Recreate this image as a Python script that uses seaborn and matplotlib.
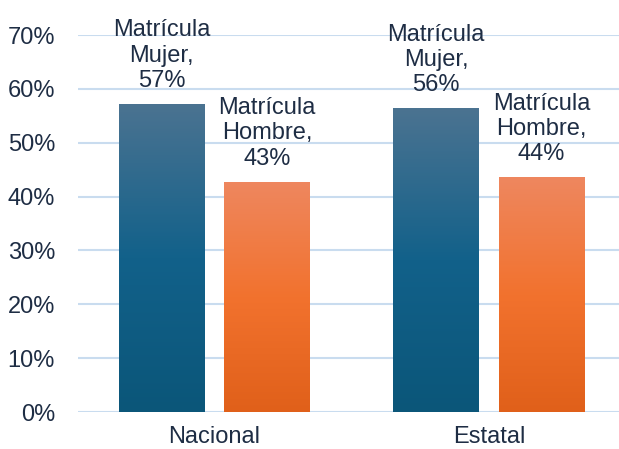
import numpy as np
import pandas as pd
import matplotlib
matplotlib.use("Agg")
import matplotlib.pyplot as plt
from matplotlib.colors import LinearSegmentedColormap
import seaborn as sns

# data
regiones = ["Nacional", "Nacional", "Estatal", "Estatal"]
series = ["Matrícula Mujer", "Matrícula Hombre", "Matrícula Mujer", "Matrícula Hombre"]
valores = [0.572, 0.428, 0.564, 0.436]
etiquetas = ["Matrícula\nMujer,\n57%", "Matrícula\nHombre,\n43%",
             "Matrícula\nMujer,\n56%", "Matrícula\nHombre,\n44%"]

df = pd.DataFrame({"region": regiones, "serie": series, "valor": valores})

sns.set_style("white")
plt.rcParams["font.family"] = ["Liberation Sans", "DejaVu Sans"]
txt = "#1e2d44"

fig = plt.figure(figsize=(6.19, 4.49), dpi=100)
ax = fig.add_axes([0.126, 0.0824, 0.874, 0.8396])

sns.barplot(data=df, x="region", y="valor", hue="serie",
            palette=["#16658a", "#f2722e"], width=0.767, gap=0.185,
            legend=False, ax=ax)

# gradient fill for each bar
cmaps = {
    "Matrícula Mujer": LinearSegmentedColormap.from_list("azul", ["#0b5679", "#12618a", "#4b7391"]),
    "Matrícula Hombre": LinearSegmentedColormap.from_list("naranja", ["#e0601a", "#f2722e", "#ee875f"]),
}
grad = np.linspace(0, 1, 256).reshape(-1, 1)
order = ["Matrícula Mujer", "Matrícula Hombre"]
bars = [p for p in ax.patches if p.get_height() > 0]
for i, p in enumerate(bars):
    x0, w, h = p.get_x(), p.get_width(), p.get_height()
    cm = cmaps[order[i // 2]]
    im = ax.imshow(grad, cmap=cm, extent=[x0, x0 + w, 0, h], origin="lower",
                   aspect="auto", zorder=3)
    im.set_clip_path(p)
    p.set_facecolor("none")
    p.set_edgecolor("none")

# labels above bars (bars ordered by hue, then category)
for i, p in enumerate(bars):
    k = (i % 2) * 2 + (i // 2)
    ax.text(p.get_x() + p.get_width() / 2, p.get_height() + 0.022, etiquetas[k],
            ha="center", va="bottom", fontsize=17, color=txt, linespacing=1.2,
            zorder=5, clip_on=False)

ax.set_ylim(0, 0.7)
ax.set_xlim(-0.497, 1.474)
ax.set_yticks(np.arange(0, 0.71, 0.1))
ax.set_yticklabels([f"{int(round(v * 100))}%" for v in np.arange(0, 0.71, 0.1)])
ax.yaxis.grid(True, color="#c9dcef", linewidth=1.5)
ax.set_axisbelow(True)
for s in ax.spines.values():
    s.set_visible(False)
ax.tick_params(axis="both", length=0, labelsize=17, colors=txt)
ax.tick_params(axis="y", pad=16.5)
ax.tick_params(axis="x", pad=10)
ax.set_xlabel("")
ax.set_ylabel("")

fig.savefig("out.png", dpi=100)
